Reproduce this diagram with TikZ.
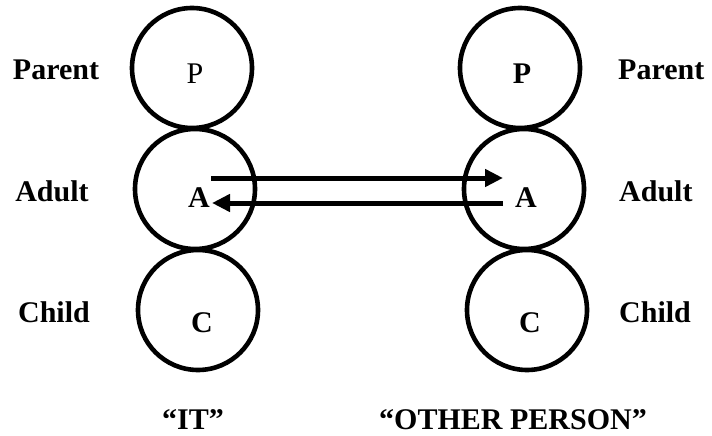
\documentclass[tikz,border=0pt]{standalone}
\usepackage{fontspec}
\setmainfont{Liberation Serif}
\usetikzlibrary{arrows.meta}
\begin{document}
\begin{tikzpicture}[x=1pt,y=-1pt,
  ego/.style={circle,draw,line width=4.6pt,minimum size=120pt,inner sep=0pt},
  lbl/.style={font=\fontsize{30}{36}\selectfont\bfseries,inner sep=0pt,anchor=base},
  arr/.style={line width=5pt,-{Triangle[length=18pt,width=17pt]}}]
\useasboundingbox (0,0) rectangle (712,436);
% circles
\node[ego] (lP) at (192,68) {};
\node[ego] (lA) at (195,189) {};
\node[ego] (lC) at (198,310) {};
\node[ego] (rP) at (520,68) {};
\node[ego] (rA) at (524,189) {};
\node[ego] (rC) at (527,310) {};
% letters in circles
\node[lbl,font=\fontsize{30}{36}\selectfont\mdseries] (lPt) at (195,83) {P};
\node[lbl] (lAt) at (199,207) {A};
\node[lbl] (lCt) at (202,332) {C};
\node[lbl] (rPt) at (522,83) {P};
\node[lbl] (rAt) at (526,207) {A};
\node[lbl] (rCt) at (530,332) {C};
% side labels
\node[lbl] (lPar) at (56,80) {Parent};
\node[lbl] (lAd) at (52,201) {Adult};
\node[lbl] (lCh) at (54,322) {Child};
\node[lbl,anchor=base west] (rPar) at (618,80) {Parent};
\node[lbl,anchor=base west] (rAd) at (619,201) {Adult};
\node[lbl,anchor=base west] (rCh) at (619,322) {Child};
% bottom labels
\node[lbl] (it) at (193,429) {``IT''};
\node[lbl] (op) at (513,429) {``OTHER PERSON''};
% arrows
\coordinate (a1s) at (211,178);
\coordinate (a1e) at (503,178);
\coordinate (a2s) at (503,203);
\coordinate (a2e) at (212,203);
\draw[arr] (a1s) -- (a1e);
\draw[arr] (a2s) -- (a2e);
\end{tikzpicture}
\end{document}
